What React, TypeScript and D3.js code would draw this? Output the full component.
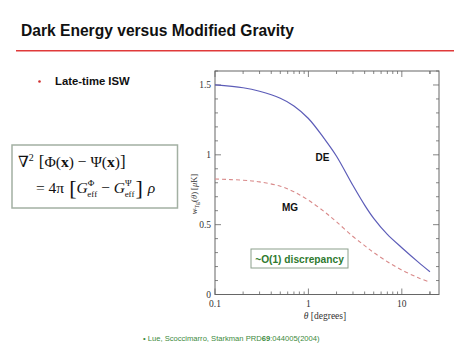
import React from "react";
import * as d3 from "d3";

const theta = [0.1, 0.2, 0.3, 0.5, 0.7, 1, 1.5, 2, 3, 4, 5, 7, 10, 15, 20];
const deValues = [1.5, 1.48, 1.455, 1.405, 1.35, 1.26, 1.11, 0.99, 0.78, 0.64, 0.545, 0.43, 0.335, 0.232, 0.163];
const mgValues = [0.827, 0.818, 0.806, 0.775, 0.735, 0.675, 0.59, 0.52, 0.415, 0.35, 0.3, 0.235, 0.175, 0.12, 0.088];
const xTickLabels = [0.1, 1, 10];
const yTickLabels = [0, 0.5, 1, 1.5];

const W = 474, H = 355;
const L = 215, R = 439, T = 71, B = 294.5;

export default function App() {
  const x = d3.scaleLog().domain([0.1, 25]).range([L, R]);
  const y = d3.scaleLinear().domain([0, 1.6]).range([B, T]);
  const line = (vals: number[]) =>
    d3.line<number>().x((_, i) => x(theta[i])).y((v) => y(v)).curve(d3.curveCatmullRom.alpha(0.5))(vals) || "";

  const xMinor: number[] = [];
  for (const dec of [0.1, 1, 10]) for (let k = 1; k <= 9; k++) { const v = dec * k; if (v <= 25) xMinor.push(v); }
  xMinor.push(20);
  const yMinor = d3.range(0, 1.61, 0.1);
  const axisColor = "#666";
  const serif = "'Liberation Serif', 'DejaVu Serif', serif";
  const sans = "'Liberation Sans', Arial, sans-serif";

  return (
    <svg width={W} height={H} style={{ position: "absolute", left: 0, top: 0, background: "#fff" }} fontFamily={sans}>
      <rect width={W} height={H} fill="#fff" />
      <text x={21} y={36} fontSize={15.6} fontWeight="bold" fill="#111">Dark Energy versus Modified Gravity</text>
      <line x1={16} x2={454} y1={50.7} y2={50.7} stroke="#e03a3a" strokeWidth={1.4} />
      <circle cx={39.5} cy={81.5} r={1.3} fill="#d03030" />
      <text x={55} y={85} fontSize={11.3} fontWeight="bold" fill="#111">Late-time ISW</text>

      <rect x={12} y={145} width={165.5} height={63} fill="#fff" stroke="#a3b0a3" strokeWidth={1.5} />
      <g fontFamily={serif} fill="#111" fontSize={15.5}>
        <text x={18} y={166.5}>
          <tspan>∇</tspan><tspan fontSize={10} dy={-6}>2</tspan><tspan dy={6} dx={5} fontSize={17}>[</tspan><tspan>Φ(</tspan><tspan fontWeight="bold">x</tspan><tspan>)  −  Ψ(</tspan><tspan fontWeight="bold">x</tspan><tspan>)</tspan><tspan fontSize={17}>]</tspan>
        </text>
        <text x={36} y={193}>
          <tspan>=  4π</tspan><tspan dx={5} fontSize={22} dy={1.5}>[</tspan><tspan dy={-1.5} fontStyle="italic">G</tspan><tspan fontSize={9} dy={-7}>Φ</tspan><tspan fontSize={9} dx={-7} dy={11}>eff</tspan><tspan dy={-4} dx={4}>−  </tspan><tspan fontStyle="italic">G</tspan><tspan fontSize={9} dy={-7}>Ψ</tspan><tspan fontSize={9} dx={-7} dy={11}>eff</tspan><tspan fontSize={22} dy={-2.5} dx={1}>]</tspan><tspan dx={5} fontStyle="italic" dy={-1.5}>ρ</tspan>
        </text>
      </g>

      {/* plot frame */}
      <rect x={L} y={T} width={R - L} height={B - T} fill="none" stroke={axisColor} strokeWidth={1} />
      {xMinor.map((v, i) => {
        const major = xTickLabels.includes(v);
        const len = major ? 6 : 3;
        return (
          <g key={"xt" + i} stroke={axisColor} strokeWidth={0.8}>
            <line x1={x(v)} x2={x(v)} y1={B} y2={B - len} />
            <line x1={x(v)} x2={x(v)} y1={T} y2={T + len} />
          </g>
        );
      })}
      {yMinor.map((v, i) => {
        const major = Math.abs(v * 2 - Math.round(v * 2)) < 1e-6;
        const len = major ? 6 : 3;
        return (
          <g key={"yt" + i} stroke={axisColor} strokeWidth={0.8}>
            <line x1={L} x2={L + len} y1={y(v)} y2={y(v)} />
            <line x1={R} x2={R - len} y1={y(v)} y2={y(v)} />
          </g>
        );
      })}
      <g fontFamily={serif} fontSize={9.5} fill="#333">
        {xTickLabels.map((v) => (
          <text key={"xl" + v} x={x(v)} y={306.5} textAnchor="middle">{v}</text>
        ))}
        {yTickLabels.map((v) => (
          <text key={"yl" + v} x={211} y={v === 0 ? y(v) + 3 : y(v) + 3.5} textAnchor="end">{v}</text>
        ))}
        <text x={325} y={318.5} textAnchor="middle">
          <tspan fontStyle="italic">θ</tspan> [degrees]
        </text>
        <text transform={`translate(197,194) rotate(-90)`} textAnchor="middle" fontSize={8.5}>
          <tspan fontStyle="italic">w</tspan><tspan fontSize={6} dy={2}>Tg</tspan><tspan dy={-2}>(</tspan><tspan fontStyle="italic">θ</tspan><tspan>)  [</tspan><tspan fontStyle="italic">μ</tspan><tspan>K]</tspan>
        </text>
      </g>

      <path d={line(deValues)} fill="none" stroke="#5c5cb8" strokeWidth={1.2} />
      <path d={line(mgValues)} fill="none" stroke="#d98a8a" strokeWidth={1.1} strokeDasharray="4,3" />

      <text x={322.5} y={160.5} textAnchor="middle" fontSize={10} fontWeight="bold" fill="#111">DE</text>
      <text x={290} y={210.5} textAnchor="middle" fontSize={10} fontWeight="bold" fill="#111">MG</text>

      <rect x={251} y={249} width={97} height={19} fill="#fff" stroke="#8ca08c" strokeWidth={1} />
      <text x={299.5} y={262.5} textAnchor="middle" fontSize={10.2} fontWeight="bold" fill="#2f7a2f">~O(1) discrepancy</text>

      <text x={143} y={341} fontSize={7.6} fill="#3c8a3c">
        • Lue, Scoccimarro, Starkman PRD<tspan fontWeight="bold">69</tspan>:044005(2004)
      </text>
    </svg>
  );
}
